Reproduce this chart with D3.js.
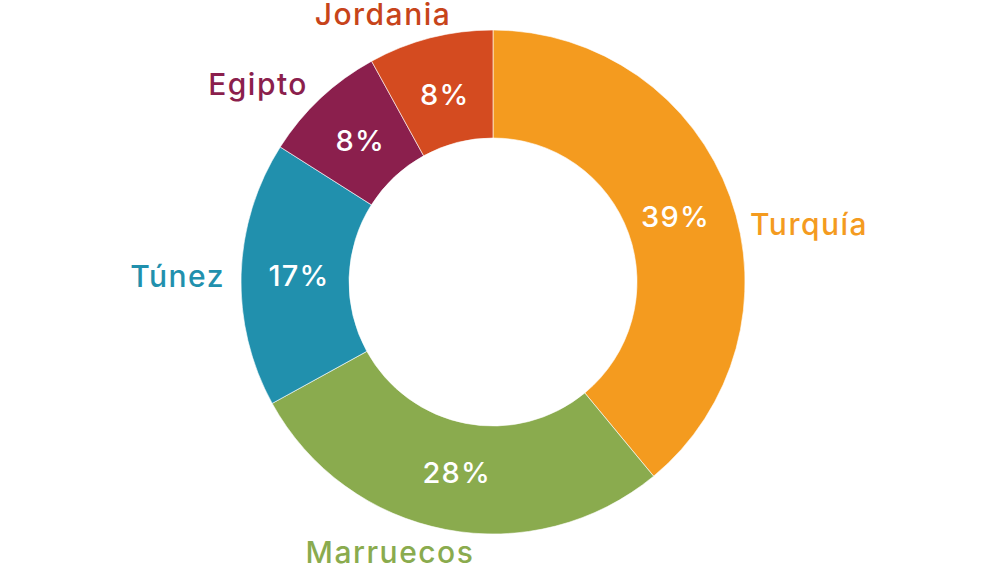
<!doctype html>
<html>
    <head>
        <meta charset="utf-8">
        <script src="https://d3js.org/d3.v7.min.js"></script>
        <style>
            body,
            html {
                margin: 0;
                padding: 0;
                overflow: hidden;
                background: #fff;
            }
            text {
                font-family: Inter, "Open Sans", sans-serif;
                font-weight: 500;
            }
        </style>
    </head>
    <body>
        <script>
            const countries = ["Turquía", "Marruecos", "Túnez", "Egipto", "Jordania"];
            const shares = [39, 28, 17, 8, 8];
            const colors = ["#f49b1f", "#8aab4e", "#2190ad", "#8b1f4d", "#d44b20"];
            const textColors = ["#f49b1f", "#8aab4e", "#2190ad", "#8b1f4d", "#c7441a"];

            // hand placed country labels: x, y (baseline), anchor
            const labelPos = [
                [750, 235, "start"],
                [390, 563, "middle"],
                [225, 287, "end"],
                [308, 95, "end"],
                [383, 25, "middle"],
            ];

            const width = 1000;
            const height = 567;
            const cx = 493;
            const cy = 282;
            const outerR = 252;
            const innerR = 144;

            const svg = d3
                .create("svg")
                .attr("width", width)
                .attr("height", height)
                .attr("viewBox", [0, 0, width, height]);

            const data = countries.map((c, i) => ({ name: c, value: shares[i], i }));

            const pie = d3.pie().value((d) => d.value).sort(null);
            const arc = d3.arc().innerRadius(innerR).outerRadius(outerR);
            const labelArc = d3.arc().innerRadius(194).outerRadius(194);

            const g = svg.append("g").attr("transform", `translate(${cx},${cy})`);

            const arcs = pie(data);

            g.selectAll("path")
                .data(arcs)
                .join("path")
                .attr("d", arc)
                .attr("fill", (d) => colors[d.data.i])
                .attr("stroke", "#fff")
                .attr("stroke-width", 0.6);

            g.selectAll("text.pct")
                .data(arcs)
                .join("text")
                .attr("class", "pct")
                .attr("transform", (d) => `translate(${labelArc.centroid(d)})`)
                .attr("text-anchor", "middle")
                .attr("dy", "0.36em")
                .attr("fill", "#fff")
                .attr("font-size", 29)
                .attr("letter-spacing", 1.2)
                .text((d) => d.data.value + "%");

            svg.append("g")
                .selectAll("text")
                .data(data)
                .join("text")
                .attr("x", (d) => labelPos[d.i][0])
                .attr("y", (d) => labelPos[d.i][1])
                .attr("text-anchor", (d) => labelPos[d.i][2])
                .attr("fill", (d) => textColors[d.i])
                .attr("font-size", 30)
                .attr("letter-spacing", 1.5)
                .text((d) => d.name);

            document.body.appendChild(svg.node());
        </script>
    </body>
</html>
